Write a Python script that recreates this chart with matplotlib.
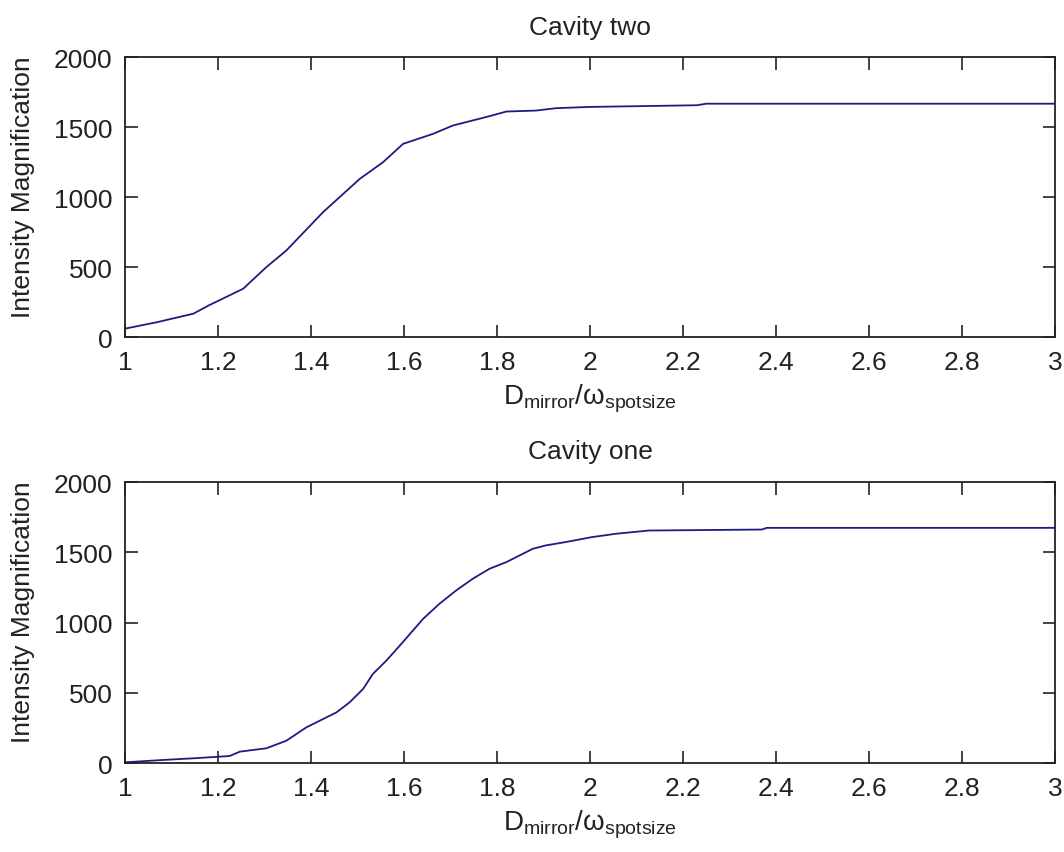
import matplotlib
matplotlib.use("Agg")
import matplotlib.pyplot as plt

plt.rcParams['font.family'] = ['Liberation Sans', 'DejaVu Sans']
plt.rcParams['mathtext.fontset'] = 'custom'
plt.rcParams['mathtext.rm'] = 'Liberation Sans'
plt.rcParams['mathtext.it'] = 'Liberation Sans:italic'

# Cavity two (top panel)
x_two = [1.0, 1.07, 1.147, 1.18, 1.254, 1.304, 1.347, 1.426, 1.505, 1.555,
         1.598, 1.662, 1.705, 1.784, 1.82, 1.884, 1.927, 2.0, 2.23, 2.25, 3.0]
y_two = [60, 107, 167, 226, 345, 500, 619, 893, 1131, 1250,
         1381, 1452, 1512, 1579, 1612, 1619, 1636, 1645, 1657, 1668, 1668]

# Cavity one (bottom panel)
x_one = [1.0, 1.072, 1.154, 1.225, 1.247, 1.304, 1.347, 1.39, 1.455, 1.483,
         1.512, 1.533, 1.562, 1.591, 1.616, 1.641, 1.676, 1.712, 1.748, 1.784,
         1.82, 1.877, 1.905, 1.948, 2.004, 2.056, 2.127, 2.37, 2.38, 3.0]
y_one = [5, 20, 35, 50, 81, 105, 159, 254, 361, 432,
         527, 634, 729, 836, 931, 1026, 1133, 1228, 1312, 1383,
         1430, 1525, 1549, 1573, 1608, 1632, 1655, 1662, 1674, 1674]

xticks = [1, 1.2, 1.4, 1.6, 1.8, 2, 2.2, 2.4, 2.6, 2.8, 3]
xtick_labels = ['1', '1.2', '1.4', '1.6', '1.8', '2', '2.2', '2.4', '2.6', '2.8', '3']
yticks = [0, 500, 1000, 1500, 2000]

panels = [
    ("Cavity two", x_two, y_two, [0.1175, 0.6037, 0.874, 0.328]),
    ("Cavity one", x_one, y_one, [0.1175, 0.1043, 0.874, 0.3294]),
]

fig = plt.figure(figsize=(10.64, 8.53), dpi=100)
fs = 19
for title, xs, ys, rect in panels:
    ax = fig.add_axes(rect)
    ax.plot(xs, ys, color='#1c1c85', linewidth=1.3)
    ax.set_xlim(1, 3)
    ax.set_ylim(0, 2000)
    ax.set_xticks(xticks)
    ax.set_xticklabels(xtick_labels)
    ax.set_yticks(yticks)
    ax.tick_params(direction='in', length=9, width=1.2, top=True, right=True,
                   labelsize=fs, pad=9, color='#222222', labelcolor='#222222')
    for s in ax.spines.values():
        s.set_linewidth(1.3)
        s.set_color('#222222')
    ax.set_title(title, fontsize=fs, pad=17, color='#222222')
    ax.set_xlabel(r'$\mathrm{D_{mirror}/\omega_{spotsize}}$', fontsize=fs + 1,
                  labelpad=6, color='#222222')
    ax.set_ylabel('Intensity Magnification', fontsize=fs, color='#222222')
    ax.yaxis.set_label_coords(-0.097, 0.54)

fig.savefig('out.png', dpi=100)
